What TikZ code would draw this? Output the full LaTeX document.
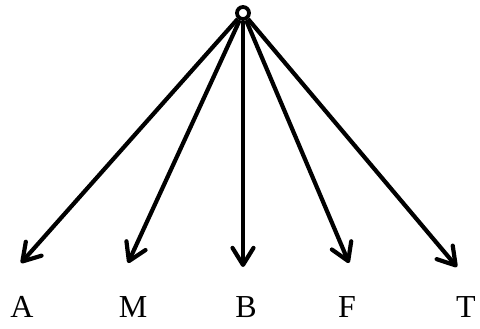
\documentclass[tikz,border=0pt]{standalone}
\usepackage{fontspec}
\setmainfont{Liberation Serif}
\usetikzlibrary{arrows.meta}

\begin{document}
\begin{tikzpicture}[x=1pt,y=-1pt,line width=4.2pt,
    >={Straight Barb[length=17pt,width=21pt,line cap=round,line join=round]}]
    \tikzset{hub/.style={draw,circle,minimum size=12pt,inner sep=0pt,line width=3.8pt},
      leaf/.style={anchor=base,inner sep=0pt,font=\fontsize{32}{38}\selectfont}}
    \useasboundingbox (0,0) rectangle (480,329);
    \node[hub] (root) at (243,13) {};
    \coordinate (a) at (21,263);
    \coordinate (m) at (128,263);
    \coordinate (b) at (243,267);
    \coordinate (f) at (349,263);
    \coordinate (t) at (457,267);
    \node[leaf] (la) at (22,317) {A};
    \node[leaf] (lm) at (133,317) {M};
    \node[leaf] (lb) at (246,317) {B};
    \node[leaf] (lf) at (347,317) {F};
    \node[leaf] (lt) at (466,317) {T};
    \path[->]
    (root)
    edge [] (a)
    edge [] (m)
    edge [] (b)
    edge [] (f)
    edge [] (t)
    ;
  \end{tikzpicture}
\end{document}
